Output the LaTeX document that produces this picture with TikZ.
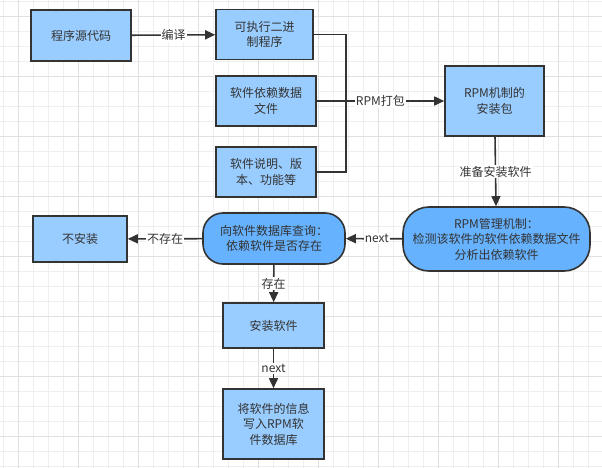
\documentclass[tikz,border=0pt]{standalone}
\usepackage{fontspec}
\setmainfont{Noto Sans CJK SC}
\usetikzlibrary{arrows.meta}

\definecolor{boxblue}{HTML}{99CCFF}
\definecolor{roundblue}{HTML}{66B2FF}
\definecolor{ink}{HTML}{333333}
\definecolor{gridminor}{HTML}{EFEFEF}
\definecolor{gridmajor}{HTML}{E0E0E0}

\tikzset{
    stepbox/.style={draw=ink, line width=1.6pt, fill=boxblue, text=ink, align=center,
        inner sep=0pt, font=\fontsize{12}{15.5}\selectfont},
    roundbox/.style={stepbox, fill=roundblue, rounded corners=#1},
    flow/.style={draw=ink, line width=1.6pt, -{Triangle[length=10pt, width=9pt]}},
    wire/.style={draw=ink, line width=1.6pt},
    lbl/.style={fill=white, text=ink, inner sep=1pt, font=\fontsize{12}{14}\selectfont}
}

\begin{document}
\begin{tikzpicture}[x=1pt, y=-1pt]
    \useasboundingbox (0,0) rectangle (602,468);
    \fill[white] (0,0) rectangle (602,468);
    % background grid
    \foreach \gx in {3,18,...,602}
        \draw[gridminor, line width=0.7pt] (\gx,0) -- (\gx,468);
    \foreach \gy in {1,16,...,468}
        \draw[gridminor, line width=0.7pt] (0,\gy) -- (602,\gy);
    \foreach \gx in {18,78,...,602}
        \draw[gridmajor, line width=0.7pt] (\gx,0) -- (\gx,468);
    \foreach \gy in {16,76,...,468}
        \draw[gridmajor, line width=0.7pt] (0,\gy) -- (602,\gy);

    % boxes
    \node[stepbox, minimum width=100pt, minimum height=51pt] (src) at (81,35.5) {程序源代码};
    \node[stepbox, minimum width=97pt, minimum height=50pt] (exe) at (264.5,34.5) {可执行二进\\制程序};
    \node[stepbox, minimum width=100pt, minimum height=50pt] (dep) at (266,101) {软件依赖数据\\文件};
    \node[stepbox, minimum width=100pt, minimum height=50pt] (info) at (266,172) {软件说明、版\\本、功能等};
    \node[stepbox, minimum width=99pt, minimum height=70pt] (pkg) at (494.5,101) {RPM机制的\\安装包};
    \node[roundbox=26pt, minimum width=187pt, minimum height=64pt] (mgr) at (496.5,239)
        {RPM管理机制：\\检测该软件的软件依赖数据文件\\分析出依赖软件};
    \node[roundbox=20pt, minimum width=142pt, minimum height=51pt] (query) at (274,238.5)
        {向软件数据库查询：\\依赖软件是否存在};
    \node[stepbox, minimum width=94pt, minimum height=46pt] (noinst) at (80,239) {不安装};
    \node[stepbox, minimum width=101pt, minimum height=45pt] (inst) at (273.5,325.5) {安装软件};
    \node[stepbox, minimum width=101pt, minimum height=70pt] (rec) at (273.5,424)
        {将软件的信息\\写入RPM软\\件数据库};

    % connectors
    \coordinate (bus) at (346,101);
    \draw[flow] (src) -- node[lbl] {编译} (exe);
    \draw[wire] (exe.east) -| (bus) |- (info.east);
    \draw[wire] (dep.east) -- (bus);
    \draw[flow] (bus) -- node[lbl, pos=0.35] {RPM打包} (pkg.west);
    \draw[flow] (pkg) -- node[lbl] {准备安装软件} (mgr);
    \draw[flow] (mgr) -- node[lbl, pos=0.45] {next} (query);
    \draw[flow] (query) -- node[lbl] {不存在} (noinst);
    \draw[flow] (query) -- node[lbl] {存在} (inst);
    \draw[flow] (inst) -- node[lbl] {next} (rec);
\end{tikzpicture}
\end{document}
